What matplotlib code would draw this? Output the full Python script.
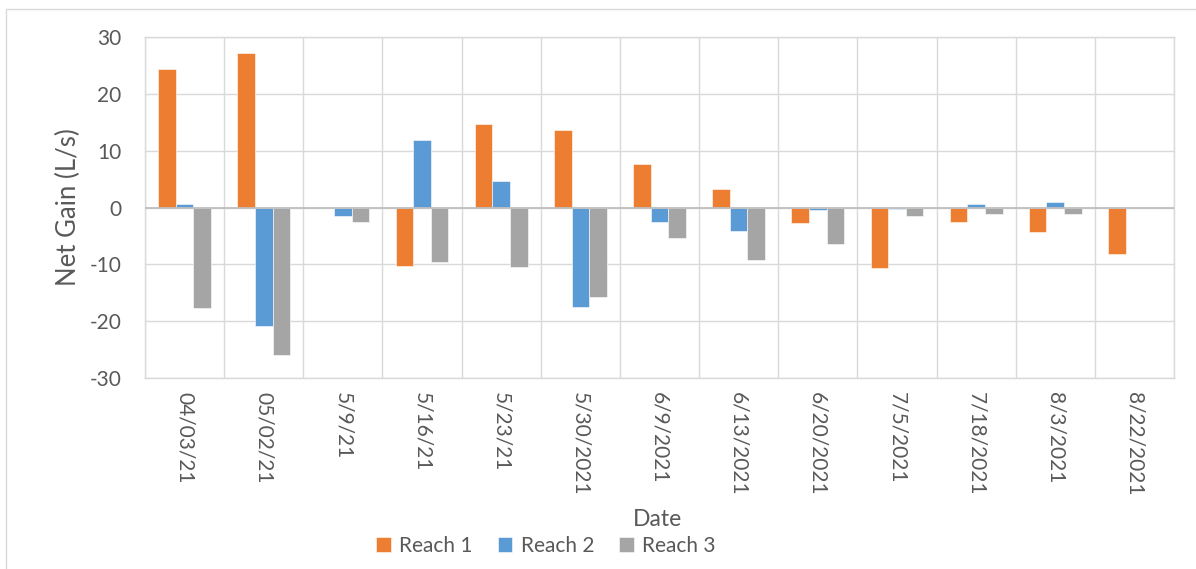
import matplotlib
matplotlib.use('Agg')
import matplotlib.pyplot as plt
import numpy as np
from matplotlib.patches import Rectangle

dates = ['04/03/21', '05/02/21', '5/9/21', '5/16/21', '5/23/21', '5/30/2021',
         '6/9/2021', '6/13/2021', '6/20/2021', '7/5/2021', '7/18/2021',
         '8/3/2021', '8/22/2021']
reach1 = [24.3, 27.1, 0.0, -10.3, 14.7, 13.6, 7.7, 3.3, -2.8, -10.6, -2.6, -4.3, -8.2]
reach2 = [0.6, -20.9, -1.5, 11.9, 4.6, -17.5, -2.5, -4.2, -0.4, -0.3, 0.6, 1.0, 0.0]
reach3 = [-17.7, -25.9, -2.6, -9.6, -10.5, -15.8, -5.4, -9.3, -6.5, -1.5, -1.2, -1.2, 0.0]
series_names = ['Reach 1', 'Reach 2', 'Reach 3']
yticks = [-30, -20, -10, 0, 10, 20, 30]

colors = ['#ED7D31', '#5B9BD5', '#A5A5A5']
text_color = '#595959'
grid_color = '#D9D9D9'

plt.rcParams['font.family'] = ['Lato', 'DejaVu Sans']

W, H = 1196, 569
fig = plt.figure(figsize=(W / 100, H / 100), dpi=100)
ax = fig.add_axes([145 / W, 1 - 378 / H, 1029 / W, 341 / H])

# outer chart frame
fig.patches.append(Rectangle((6 / W, -0.05), 1.1, 1 - 9 / H + 0.05,
                             transform=fig.transFigure, fill=False,
                             edgecolor=grid_color, linewidth=1.0, zorder=0))

n = len(dates)
x = np.arange(n)
width = 1 / 4.5  # Excel gap width 150%

for i, (vals, name) in enumerate(zip([reach1, reach2, reach3], series_names)):
    ax.bar(x + (i - 1) * width, vals, width, color=colors[i], label=name,
           edgecolor='white', linewidth=0.4, zorder=3)

ax.set_xlim(-0.5, n - 0.5)
ax.set_ylim(-30, 30)
ax.set_yticks(yticks)
ax.set_yticklabels([str(t) for t in yticks], fontsize=15, color=text_color)

# horizontal gridlines
ax.yaxis.grid(True, color=grid_color, linewidth=1.0, zorder=0)
# vertical gridlines at category boundaries
for b in np.arange(-0.5, n, 1.0):
    ax.axvline(b, color=grid_color, linewidth=1.0, zorder=0)
ax.axhline(0, color='#BFBFBF', linewidth=1.3, zorder=4)

ax.set_xticks(x)
ax.set_xticklabels(dates, rotation=-90, fontsize=15, color=text_color,
                   ha='center', va='top')
ax.tick_params(axis='both', length=0)
ax.tick_params(axis='x', pad=10)
ax.tick_params(axis='y', pad=17)

for s in ax.spines.values():
    s.set_color(grid_color)
    s.set_linewidth(1.0)

ax.set_ylabel('Net Gain (L/s)', fontsize=18.5, color=text_color)
ax.yaxis.set_label_coords(-0.062, 0.5)
ax.set_xlabel('Date', fontsize=16.5, color=text_color)
ax.xaxis.set_label_coords(0.4976, -0.385)

fig.legend(loc='center', bbox_to_anchor=(546 / W, 1 - 546 / H), ncol=3,
           frameon=False, fontsize=15, handlelength=0.7, handleheight=0.7,
           handletextpad=0.4, columnspacing=1.2, labelcolor=text_color)

fig.savefig('out.png', dpi=100)
